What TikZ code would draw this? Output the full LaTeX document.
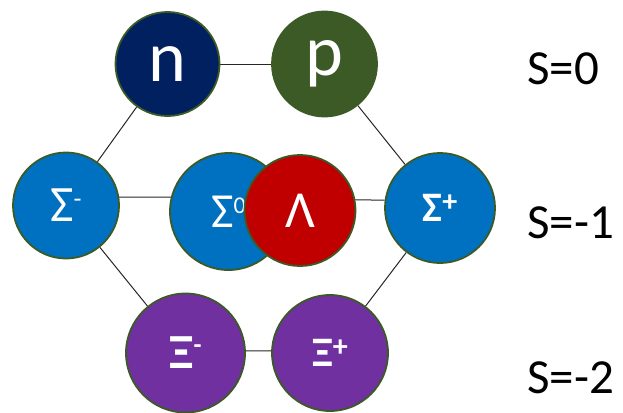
\documentclass[tikz,border=0pt]{standalone}
\usepackage{fontspec}
\setmainfont{Carlito}
\usetikzlibrary{backgrounds}
\definecolor{rimgreen}{HTML}{3B5A26}
\definecolor{neutronblue}{HTML}{002060}
\definecolor{protongreen}{HTML}{3B5A26}
\definecolor{sigmablue}{HTML}{0070C0}
\definecolor{lambdared}{HTML}{C00000}
\definecolor{xipurple}{HTML}{7030A0}
\newcommand{\supmark}[3]{\raisebox{#1}{\fontsize{#2}{#2}\selectfont #3}}
\tikzset{
  particle/.style={circle, draw=rimgreen, line width=1.8pt, text=white,
    inner sep=0pt, minimum size=#1},
  particle/.default=104pt,
  link/.style={draw=black!85, line width=1pt},
  level/.style={anchor=west, font=\fontsize{49}{49}\selectfont, inner sep=0pt}
}
\begin{document}
\begin{tikzpicture}[x=1pt, y=-1pt]
  \useasboundingbox (0,0) rectangle (623,412);

  % baryon octet circles
  \node[particle=104pt, fill=neutronblue, font=\fontsize{72}{72}\selectfont] (n) at (167.5,64) {n};
  \node[particle=105pt, fill=protongreen, font=\fontsize{72}{72}\selectfont] (p) at (324.5,64) {p};

  \node[particle=106pt, fill=sigmablue, font=\fontsize{51}{51}\selectfont] (sm) at (66,205.5)
    {Σ\supmark{14pt}{26pt}{-}};
  \node[particle=117pt, fill=sigmablue, font=\fontsize{49}{49}\selectfont] (s0) at (228.5,211.5)
    {Σ\supmark{14pt}{24pt}{0}};
  \node[particle=111pt, fill=lambdared, font=\fontsize{52}{52}\selectfont] (lam) at (300,210.5) {Λ};
  \node[particle=110pt, fill=sigmablue, font=\bfseries\fontsize{42}{42}\selectfont] (sp) at (440,208)
    {Σ\supmark{10pt}{30pt}{+}};

  \node[particle=119pt, fill=xipurple, font=\bfseries\fontsize{49}{49}\selectfont] (xm) at (185.5,353)
    {Ξ\supmark{15pt}{26pt}{-}};
  \node[particle=116pt, fill=xipurple, font=\bfseries\fontsize{42}{42}\selectfont] (xp) at (330,353)
    {Ξ\supmark{10pt}{30pt}{+}};

  % strangeness labels
  \node[level] (s0lab) at (527,69) {S=0};
  \node[level] (s1lab) at (527,223) {S=-1};
  \node[level] (s2lab) at (527,378) {S=-2};

  % connectors behind the circles
  \begin{scope}[on background layer]
    \draw[link] (n) -- (p);
    \draw[link] (n) -- (sm);
    \draw[link] (p) -- (sp);
    \draw[link] (sm.9) -- (s0.166);
    \draw[link] (lam.11) -- (sp.172);
    \draw[link] (sm) -- (xm);
    \draw[link] (sp) -- (xp);
    \draw[link] (xm.2) -- (xp.178);
  \end{scope}
\end{tikzpicture}
\end{document}
